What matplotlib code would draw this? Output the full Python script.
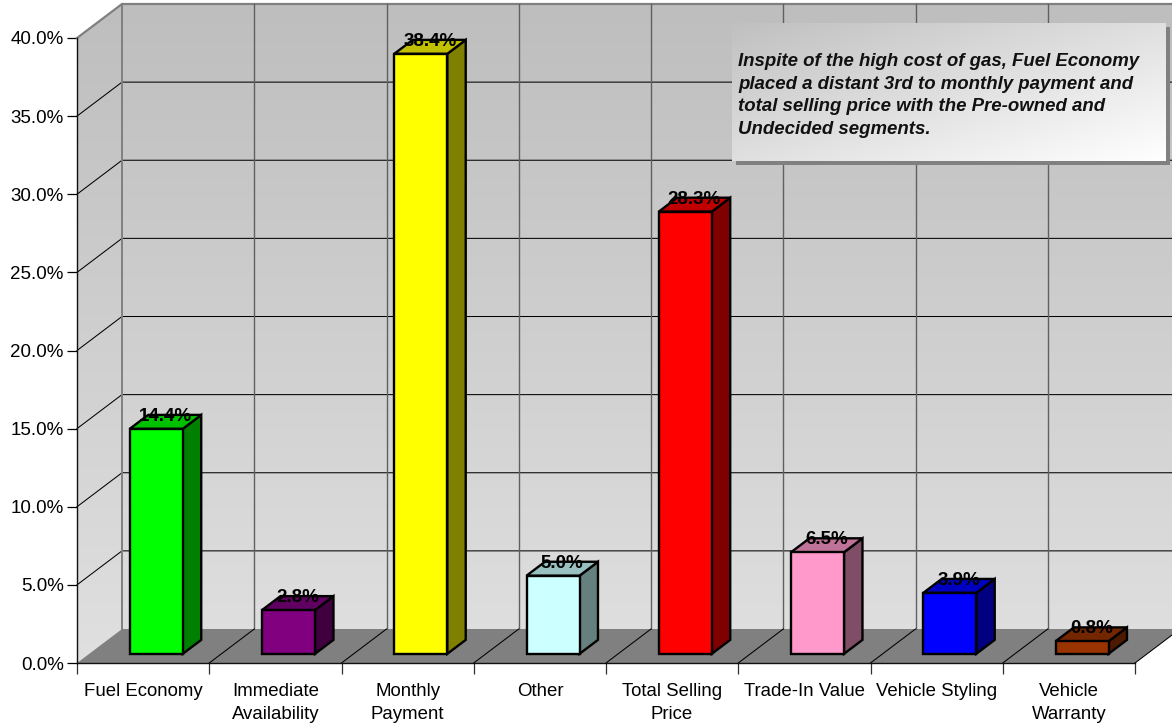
import numpy as np
import matplotlib
matplotlib.use('Agg')
import matplotlib.pyplot as plt
from matplotlib.colors import LinearSegmentedColormap
from matplotlib.patches import Polygon, Rectangle

plt.rcParams['font.family'] = ['Liberation Sans', 'DejaVu Sans']

categories = ['Fuel Economy', 'Immediate\nAvailability', 'Monthly\nPayment', 'Other',
              'Total Selling\nPrice', 'Trade-In Value', 'Vehicle Styling', 'Vehicle\nWarranty']
values = [14.4, 2.8, 38.4, 5.0, 28.3, 6.5, 3.9, 0.8]
front_colors = ['#00ff00', '#800080', '#ffff00', '#ccffff', '#ff0000', '#ff99cc', '#0000ff', '#993300']
top_colors = ['#00c000', '#600060', '#c0c000', '#99c0c0', '#c00000', '#c07399', '#0000c0', '#732600']
side_colors = ['#008000', '#400040', '#808000', '#668080', '#800000', '#804d66', '#000080', '#4d1a00']
y_ticks = [0, 5, 10, 15, 20, 25, 30, 35, 40]
note = ('Inspite of the high cost of gas, Fuel Economy\n'
        'placed a distant 3rd to monthly payment and\n'
        'total selling price with the Pre-owned and\n'
        'Undecided segments.')

W, H = 1172, 725
fig = plt.figure(figsize=(W / 100, H / 100), dpi=100, facecolor='white')

# front plane of the 3D box: x 77-1135, y 663-38 in pixels
ax = fig.add_axes([77 / W, 1 - 663 / H, (1135 - 77) / W, (663 - 38) / H])
ax.set_xlim(-0.5, 7.5)
ax.set_ylim(0, 40)
ax.patch.set_visible(False)

# depth of the box in data units
DX = 45 / (1058 / 8)
DY = 34 / (625 / 40)


def proj(x, y, d):
    return (x + d * DX, y + d * DY)


wall_cmap = LinearSegmentedColormap.from_list('wall', ['#bebebe', '#e0e0e0'])
grad = np.linspace(0, 1, 256).reshape(-1, 1)

# left wall and back wall with a vertical gradient
left_wall = Polygon([proj(-0.5, 0, 0), proj(-0.5, 40, 0), proj(-0.5, 40, 1), proj(-0.5, 0, 1)],
                    closed=True, transform=ax.transData, fc='none', ec='none')
back_wall = Polygon([proj(-0.5, 0, 1), proj(-0.5, 40, 1), proj(7.5, 40, 1), proj(7.5, 0, 1)],
                    closed=True, transform=ax.transData, fc='none', ec='none')
for wall in [left_wall, back_wall]:
    ax.add_patch(wall)
    im = ax.imshow(grad, cmap=wall_cmap, aspect='auto', zorder=1,
                   extent=(-0.5, 7.5 + DX, 0, 40 + DY), origin='upper')
    im.set_clip_path(wall)
    im.set_clip_box(fig.bbox)
ax.set_xlim(-0.5, 7.5)
ax.set_ylim(0, 40)

# floor
ax.add_patch(Polygon([proj(-0.5, 0, 0), proj(7.5, 0, 0), proj(7.5, 0, 1), proj(-0.5, 0, 1)],
                     closed=True, fc='#808080', ec='none', zorder=2, clip_on=False))

# grid lines
for t in y_ticks[1:]:
    x0, y0 = proj(-0.5, t, 0)
    x1, y1 = proj(-0.5, t, 1)
    x2, y2 = proj(7.5, t, 1)
    color = '#808080' if t == 40 else 'black'
    lw = 1.6 if t == 40 else 0.75
    ax.plot([x0, x1, x2], [y0, y1, y2], color=color, lw=lw, zorder=3, clip_on=False)
for i in range(9):
    x = i - 0.5
    x1, y1 = proj(x, 0, 1)
    x2, y2 = proj(x, 40, 1)
    ax.plot([x1, x2], [y1, y2], color='#808080' if i == 0 else '#606060', lw=1.4 if i == 0 else 1.0,
            zorder=3, clip_on=False)
    if i > 0:
        ax.plot([x, x1], [0, y1], color='black', lw=0.75, zorder=3, clip_on=False)

# bars
BAR_W = 53 / (1058 / 8)
BAR_SHIFT = 1 / (1058 / 8)
D0, D1 = 0.27, 0.68
for i, v in enumerate(values):
    xl = i - BAR_W / 2 + BAR_SHIFT
    xr = i + BAR_W / 2 + BAR_SHIFT
    front = [proj(xl, 0, D0), proj(xr, 0, D0), proj(xr, v, D0), proj(xl, v, D0)]
    side = [proj(xr, 0, D0), proj(xr, 0, D1), proj(xr, v, D1), proj(xr, v, D0)]
    top = [proj(xl, v, D0), proj(xr, v, D0), proj(xr, v, D1), proj(xl, v, D1)]
    for pts, c in [(side, side_colors[i]), (top, top_colors[i]), (front, front_colors[i])]:
        ax.add_patch(Polygon(pts, closed=True, fc=c, ec='black', lw=1.7, zorder=4,
                             joinstyle='miter', clip_on=False))
    # labels sit over the top face, a little under its back edge
    lx = proj(i + BAR_SHIFT, v, (D0 + D1) / 2)[0]
    ly = proj(i, v, D1)[1] - 0.1
    ax.text(lx, ly, f'{v:.1f}%', ha='center', va='center', fontsize=13.5, fontweight='bold',
            color='black', zorder=6, clip_on=False)

# axes, ticks and labels
ax.set_yticks(y_ticks)
ax.set_yticklabels([f'{t:.1f}%' for t in y_ticks], fontsize=13.5, color='black')
ax.set_xticks(np.arange(8))
ax.set_xticklabels(categories, fontsize=13.4, color='black', linespacing=1.45)
ax.set_xticks(np.arange(9) - 0.5, minor=True)
ax.tick_params(axis='x', which='major', length=0, pad=14.7)
ax.tick_params(axis='x', which='minor', length=8, width=0.9, color='#303030')
ax.tick_params(axis='y', length=7.5, width=0.9, pad=2)
for s in ['top', 'right']:
    ax.spines[s].set_visible(False)
for s in ['left', 'bottom']:
    ax.spines[s].set_linewidth(1.0)
    ax.spines[s].set_zorder(5)
    ax.spines[s].set_color('#101010')

# overlay in pixel coordinates for the note box
over = fig.add_axes([0, 0, 1, 1], zorder=10)
over.set_xlim(0, W)
over.set_ylim(H, 0)
over.axis('off')
over.add_patch(Rectangle((736, 27), 434, 138, fc='#808080', ec='none', zorder=1))
box_cmap = LinearSegmentedColormap.from_list('box', ['#c0c0c0', '#ffffff'])
xx, yy = np.meshgrid(np.linspace(0, 1, 200), np.linspace(0, 1, 100))
over.imshow((xx + yy) / 2, cmap=box_cmap, aspect='auto', zorder=2,
            extent=(732, 1166, 161, 23), vmin=0, vmax=1)
over.set_xlim(0, W)
over.set_ylim(H, 0)
over.text(738, 95.5, note, ha='left', va='center', fontsize=13.43, fontweight='bold',
          fontstyle='italic', color='#111111', linespacing=1.45, zorder=3)

plt.savefig('out.png', dpi=100)
